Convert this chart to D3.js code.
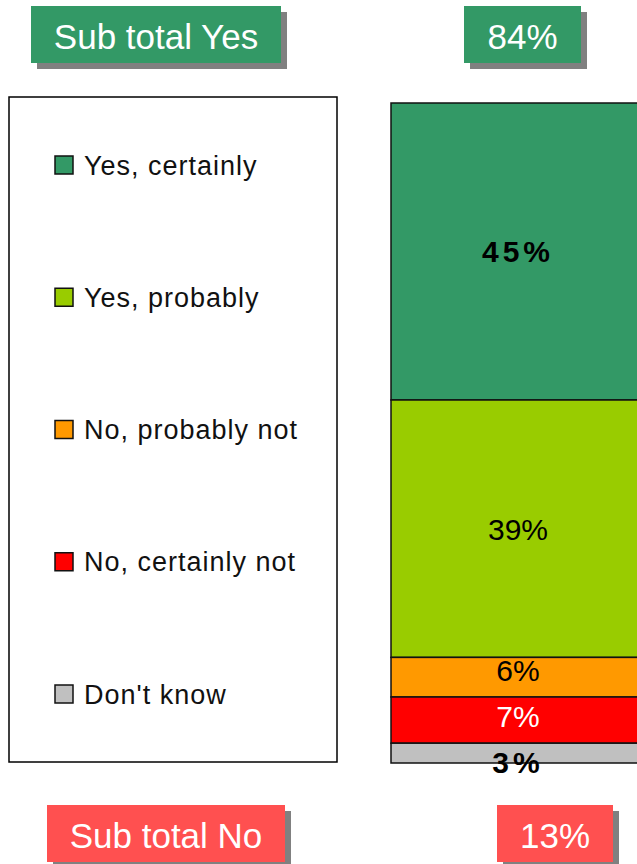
<!DOCTYPE html>
<html>
<head>
<meta charset="utf-8">
<script src="https://cdn.jsdelivr.net/npm/d3@7"></script>
<style>
  body { margin: 0; background: #fff; overflow: hidden; }
  svg { display: block; }
</style>
</head>
<body>
<div id="chart"></div>
<script>
const categories = ['Yes, certainly', 'Yes, probably', 'No, probably not', 'No, certainly not', "Don't know"];
const values = [45, 39, 6, 7, 3];
const colors = ['#339966', '#99cc00', '#ff9900', '#ff0000', '#c0c0c0'];
const labelColors = ['#000', '#000', '#000', '#fff', '#000'];
const labelWeights = ['bold', 'normal', 'normal', 'normal', 'bold'];
const subtotalNames = ['Sub total Yes', 'Sub total No'];
const subtotalValues = ['84%', '13%'];
const subtotalColors = ['#339966', '#ff5050'];

const W = 637, H = 864;
const BAR = { x: 391, width: 254, top: 103, bottom: 763 };
const LEGEND = { x: 9, y: 97, width: 328, height: 665 };
const FONT = 'Liberation Sans, Arial, sans-serif';

const svg = d3.select('#chart').append('svg')
  .attr('width', W)
  .attr('height', H);

// stacked bar, top to bottom
const y = d3.scaleLinear().domain([0, d3.sum(values)]).range([BAR.top, BAR.bottom]);
const starts = d3.cumsum([0].concat(values.slice(0, -1)));
const segs = values.map((v, i) => ({ v, i, s: starts[i], e: starts[i] + v }));

svg.append('g').selectAll('rect')
  .data(segs)
  .join('rect')
  .attr('x', BAR.x)
  .attr('y', d => y(d.s))
  .attr('width', BAR.width)
  .attr('height', d => y(d.e) - y(d.s))
  .attr('fill', d => colors[d.i])
  .attr('stroke', '#111')
  .attr('stroke-width', 1.5);

// labels: small segments get nudged like in the original
const nudge = [0, 0, -7, -4, 9];
svg.append('g').selectAll('text')
  .data(segs)
  .join('text')
  .attr('x', BAR.x + BAR.width / 2)
  .attr('y', d => (y(d.s) + y(d.e)) / 2 + nudge[d.i])
  .attr('dy', '0.36em')
  .attr('text-anchor', 'middle')
  .attr('font-family', FONT)
  .attr('font-size', 30)
  .attr('font-weight', d => labelWeights[d.i])
  .attr('letter-spacing', d => labelWeights[d.i] === 'bold' ? 4 : 0)
  .attr('fill', d => labelColors[d.i])
  .text(d => d.v + '%');

// legend
svg.append('rect')
  .attr('x', LEGEND.x).attr('y', LEGEND.y)
  .attr('width', LEGEND.width).attr('height', LEGEND.height)
  .attr('fill', '#fff').attr('stroke', '#000').attr('stroke-width', 1.5);

const ly = d3.scalePoint().domain(categories).range([165, 694]);
const leg = svg.append('g').selectAll('g')
  .data(categories)
  .join('g')
  .attr('transform', d => `translate(55, ${ly(d)})`);

leg.append('rect')
  .attr('x', 0).attr('y', -9)
  .attr('width', 18).attr('height', 18)
  .attr('fill', (d, i) => colors[i])
  .attr('stroke', '#111').attr('stroke-width', 1.5);

leg.append('text')
  .attr('x', 29)
  .attr('dy', '0.36em')
  .attr('font-family', FONT)
  .attr('font-size', 27)
  .attr('letter-spacing', 1)
  .attr('fill', '#111')
  .text(d => d);

// subtotal boxes
const boxes = [
  { x: 31, y: 6, w: 250, text: subtotalNames[0], color: subtotalColors[0] },
  { x: 464, y: 6, w: 117, text: subtotalValues[0], color: subtotalColors[0] },
  { x: 47, y: 805, w: 238, text: subtotalNames[1], color: subtotalColors[1] },
  { x: 497, y: 805, w: 116, text: subtotalValues[1], color: subtotalColors[1] }
];
const bh = 57;
const bg = svg.append('g').selectAll('g')
  .data(boxes)
  .join('g');

bg.append('rect')
  .attr('x', d => d.x + 6).attr('y', d => d.y + 6)
  .attr('width', d => d.w).attr('height', bh)
  .attr('fill', '#808080');
bg.append('rect')
  .attr('x', d => d.x).attr('y', d => d.y)
  .attr('width', d => d.w).attr('height', bh)
  .attr('fill', d => d.color);
bg.append('text')
  .attr('x', d => d.x + d.w / 2)
  .attr('y', d => d.y + bh / 2 + 2)
  .attr('dy', '0.36em')
  .attr('text-anchor', 'middle')
  .attr('font-family', FONT)
  .attr('font-size', 35)
  .attr('fill', '#fff')
  .text(d => d.text);
</script>
</body>
</html>
